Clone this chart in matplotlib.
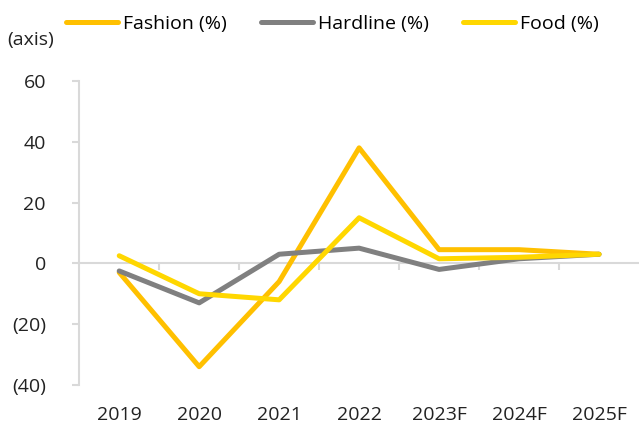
import matplotlib.pyplot as plt
import matplotlib.transforms as mtransforms

years = ["2019", "2020", "2021", "2022", "2023F", "2024F", "2025F"]
fashion = [-3, -34, -6, 38, 4.5, 4.5, 3]
hardline = [-2.5, -13, 3, 5, -2, 1.5, 3]
food = [2.5, -10, -12, 15, 1.5, 2, 3]
yticks = [-40, -20, 0, 20, 40, 60]
ytick_labels = ["(40)", "(20)", "0", "20", "40", "60"]

series = [("Fashion (%)", fashion, "#FFC000"),
          ("Hardline (%)", hardline, "#808080"),
          ("Food (%)", food, "#FFD700")]

plt.rcParams['font.family'] = ['Open Sans', 'DejaVu Sans']
fs = 14
txt = "#222222"
grid = "#d9d9d9"

fig = plt.figure(figsize=(6.39, 4.33), dpi=100)
ax = fig.add_axes([0.124, 0.111, 0.876, 0.702])

x = list(range(len(years)))
for name, vals, color in series:
    ax.plot(x, vals, color=color, lw=3.6, label=name, solid_capstyle='round')

ax.set_xlim(-0.5, len(years) - 0.5)
ax.set_ylim(-40, 60)
ax.set_yticks(yticks)
ax.set_yticklabels(ytick_labels, fontsize=fs, color=txt)
ax.tick_params(axis='y', length=5, width=1.5, color=grid, pad=19)

ax.spines['top'].set_visible(False)
ax.spines['right'].set_visible(False)
ax.spines['left'].set_color(grid)
ax.spines['left'].set_linewidth(1.5)
ax.spines['bottom'].set_position(('data', 0))
ax.spines['bottom'].set_color(grid)
ax.spines['bottom'].set_linewidth(1.5)
ax.spines['bottom'].set_zorder(0)

# category boundaries carry the tick marks, labels go under the plot
ax.set_xticks([i + 0.5 for i in x[:-1]])
ax.tick_params(axis='x', length=5, width=1.5, color=grid, labelbottom=False)

trans = mtransforms.blended_transform_factory(ax.transData, ax.transAxes)
for i, yr in enumerate(years):
    ax.text(i, -0.099, yr, transform=trans, ha='center', va='center',
            fontsize=fs, color=txt)

fig.text(0.012, 0.908, "(axis)", fontsize=fs, color=txt, va='center')
fig.legend(loc='center', bbox_to_anchor=(0.52, 0.945), ncol=3, frameon=False,
           fontsize=fs, handlelength=2.7, columnspacing=1.75, handletextpad=0.25)

fig.savefig("out.png", dpi=100)
